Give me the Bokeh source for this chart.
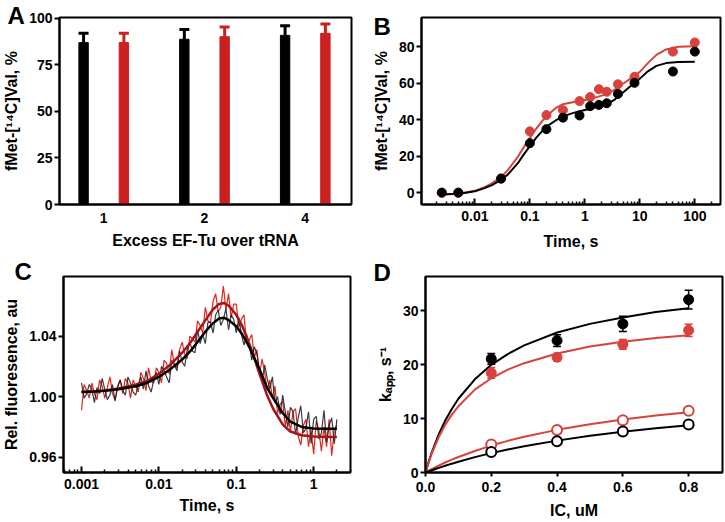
import numpy as np
from bokeh.plotting import figure
from bokeh.layouts import row, column
from bokeh.models import (Range1d, FixedTicker, NumeralTickFormatter, Title, Whisker,
                          TeeHead, ColumnDataSource)
from bokeh.embed import file_html
from bokeh.resources import INLINE

FONT = "Liberation Sans"
BLACK = "#000000"
RED_A = "#cc1f1f"
RED = "#d9423c"
RED_TRACE = "#e3261f"
RED_FIT = "#a3151a"

# ---------------- Panel A data ----------------
a_categories = ["1", "2", "4"]
a_black = [87.0, 88.8, 90.9]
a_black_err = [5.0, 5.3, 5.2]
a_red = [87.0, 90.2, 92.0]
a_red_err = [5.0, 5.2, 5.0]
a_yticks = [0, 25, 50, 75, 100]

# ---------------- Panel B data ----------------
b_time = [0.0025, 0.005, 0.03, 0.1, 0.2, 0.4, 0.8, 1.25, 1.8, 2.5, 4, 8, 40, 100]
b_black = [0.0, 0.0, 7.7, 27.1, 34.8, 41.1, 42.3, 47.4, 48.1, 49.0, 54.1, 60.2, 66.4, 77.3]
b_red = [0.0, 0.0, 7.7, 33.6, 42.5, 45.2, 50.2, 52.4, 56.7, 55.3, 59.4, 63.5, 77.3, 82.3]
b_fit_time = [0.0025, 0.004, 0.006, 0.01, 0.015, 0.02, 0.03, 0.04, 0.06, 0.08, 0.1, 0.13,
              0.17, 0.22, 0.3, 0.4, 0.6, 0.8, 1.2, 1.7, 2.5, 3.5, 5, 7, 10, 14, 20, 30, 50, 100]
b_fit_black = [-1.0, -0.7, -0.3, 0.8, 2.5, 4.0, 7.0, 10.0, 16.0, 21.5, 25.5, 30.0, 34.0, 37.0,
               39.7, 41.8, 43.6, 44.6, 45.8, 47.0, 48.5, 51.0, 55.0, 58.7, 62.5, 66.5, 69.5,
               71.0, 71.6, 71.7]
b_fit_red = [-1.0, -0.6, -0.2, 1.0, 3.0, 5.0, 8.5, 12.5, 19.5, 25.5, 30.0, 35.0, 39.5, 43.0,
             46.5, 48.5, 49.6, 50.2, 51.2, 52.5, 54.0, 56.5, 59.8, 62.8, 66.2, 71.0, 75.5,
             78.5, 80.0, 80.3]
b_xticks = [0.01, 0.1, 1, 10, 100]
b_yticks = [0, 20, 40, 60, 80]

# ---------------- Panel C data ----------------
c_black_trace = [1.009, 0.999, 1.002, 1.008, 1.005, 0.996, 1.006, 1.002, 1.012, 1.005,
                 0.998, 1.001, 1.008, 0.997, 1.007, 1.011, 1.004, 1.001, 1.013, 1.009,
                 1.003, 1.001, 1.008, 1.013, 1.005, 1.017, 1.007, 1.003, 1.011, 1.016,
                 1.008, 1.020, 1.017, 1.013, 1.009, 1.024, 1.021, 1.017, 1.030, 1.023,
                 1.020, 1.031, 1.036, 1.030, 1.029, 1.044, 1.035, 1.041, 1.035, 1.049,
                 1.049, 1.042, 1.054, 1.057, 1.047, 1.051, 1.058, 1.044, 1.054, 1.051,
                 1.042, 1.052, 1.041, 1.034, 1.041, 1.035, 1.024, 1.033, 1.028, 1.017,
                 1.010, 1.021, 1.012, 1.005, 1.013, 0.996, 1.000, 0.988, 1.001, 0.990,
                 0.980, 0.993, 0.990, 0.975, 0.986, 0.994, 0.976, 0.979, 0.990, 0.969,
                 0.985, 0.987, 0.972, 0.976, 0.991, 0.970, 0.981, 0.986, 0.969, 0.985]
c_red_trace = [0.991, 1.008, 1.004, 0.999, 1.009, 1.002, 0.998, 1.011, 1.007, 0.999,
               1.006, 1.013, 1.002, 0.998, 1.006, 1.011, 1.002, 1.012, 1.009, 0.999,
               1.011, 1.007, 1.003, 1.016, 1.012, 1.004, 1.019, 1.010, 1.009, 1.019,
               1.016, 1.009, 1.024, 1.022, 1.015, 1.031, 1.021, 1.019, 1.031, 1.036,
               1.028, 1.025, 1.040, 1.038, 1.036, 1.050, 1.047, 1.042, 1.059, 1.050,
               1.049, 1.063, 1.068, 1.056, 1.059, 1.073, 1.057, 1.068, 1.052, 1.061,
               1.061, 1.046, 1.051, 1.054, 1.035, 1.037, 1.041, 1.026, 1.031, 1.014,
               1.025, 1.016, 1.004, 1.011, 0.999, 1.007, 0.989, 0.995, 0.997, 0.980,
               0.991, 0.977, 0.990, 0.992, 0.974, 0.968, 0.981, 0.985, 0.967, 0.978,
               0.962, 0.984, 0.978, 0.964, 0.980, 0.967, 0.985, 0.961, 0.978, 0.981]
c_trace_time = np.geomspace(0.001, 2.0, len(c_black_trace))
c_fit_time = [0.001, 0.0015, 0.002, 0.003, 0.005, 0.007, 0.01, 0.014, 0.02, 0.025, 0.03,
              0.04, 0.05, 0.06, 0.07, 0.08, 0.1, 0.12, 0.15, 0.2, 0.25, 0.3, 0.4, 0.5, 0.7,
              1.0, 1.5, 2.0]
c_fit_black = [1.0030, 1.0033, 1.0038, 1.0048, 1.0068, 1.0090, 1.0130, 1.0180, 1.0245, 1.0295,
               1.0345, 1.0430, 1.0485, 1.0515, 1.0520, 1.0505, 1.0465, 1.0410, 1.0320, 1.0180,
               1.0060, 0.9990, 0.9890, 0.9835, 0.9800, 0.9790, 0.9788, 0.9788]
c_fit_red = [1.0030, 1.0035, 1.0041, 1.0053, 1.0078, 1.0103, 1.0150, 1.0210, 1.0290, 1.0350,
             1.0410, 1.0505, 1.0575, 1.0612, 1.0618, 1.0600, 1.0540, 1.0465, 1.0340, 1.0150,
             1.0010, 0.9920, 0.9815, 0.9770, 0.9745, 0.9736, 0.9733, 0.9733]
c_xticks = [0.001, 0.01, 0.1, 1]
c_yticks = [0.96, 1.00, 1.04]

# ---------------- Panel D data ----------------
d_ic = [0.2, 0.4, 0.6, 0.8]
d_black_filled = [21.1, 24.5, 27.6, 32.1]
d_black_filled_err = [1.0, 1.1, 1.4, 1.75]
d_red_filled = [18.5, 21.4, 23.8, 26.4]
d_red_filled_err = [1.0, 0.7, 0.9, 1.15]
d_red_open = [5.2, 7.9, 9.7, 11.45]
d_black_open = [3.8, 5.8, 7.6, 8.9]
d_fit_x = [0.0, 0.01, 0.02, 0.04, 0.06, 0.08, 0.1, 0.15, 0.2, 0.25, 0.3, 0.4, 0.5, 0.6, 0.7, 0.8]
d_fit_black_filled = [0.0, 2.06, 3.9, 7.05, 9.65, 11.8, 13.7, 17.3, 20.0, 22.0, 23.6, 26.0,
                      27.6, 28.8, 29.8, 30.5]
d_fit_red_filled = [0.0, 1.95, 3.67, 6.54, 8.85, 10.75, 12.3, 15.4, 17.5, 19.1, 20.3, 22.1,
                    23.4, 24.3, 25.0, 25.5]
d_fit_red_open = [0.0, 0.33, 0.65, 1.27, 1.86, 2.39, 2.88, 4.0, 5.0, 5.87, 6.63, 7.92, 8.98,
                  9.85, 10.58, 11.2]
d_fit_black_open = [0.0, 0.22, 0.43, 0.85, 1.25, 1.64, 2.01, 2.86, 3.6, 4.28, 4.87, 5.92,
                    6.81, 7.57, 8.22, 8.79]
d_xticks = [0.0, 0.2, 0.4, 0.6, 0.8]
d_yticks = [0, 10, 20, 30]


def make_fig(W, H, L, R, T, B, x_range, y_range, x_axis_type="linear"):
    p = figure(width=W, height=H, x_range=x_range, y_range=y_range,
               x_axis_type=x_axis_type, output_backend="svg", toolbar_location=None,
               min_border_left=L, min_border_right=W - R, min_border_top=T,
               min_border_bottom=H - B)
    p.outline_line_color = "black"
    p.outline_line_width = 2
    p.outline_line_alpha = 1.0
    p.grid.visible = False
    for ax in (p.xaxis[0], p.yaxis[0]):
        ax.axis_line_width = 2
        ax.major_tick_line_width = 2
        ax.minor_tick_line_width = 1.5
        ax.major_label_text_font = FONT
        ax.major_label_text_font_style = "bold"
        ax.major_label_text_font_size = "14px"
        ax.major_label_text_color = "black"
        ax.axis_label_text_font = FONT
        ax.axis_label_text_font_style = "bold"
        ax.axis_label_text_font_size = "16px"
        ax.axis_label_text_color = "black"
    p.yaxis.major_tick_out = 5
    p.yaxis.major_tick_in = 0
    p.yaxis.minor_tick_out = 0
    p.yaxis.minor_tick_in = 0
    p.yaxis.major_label_standoff = 2
    p.yaxis.axis_label_standoff = 6
    return p


def set_letter(p, text, offset, standoff):
    p.title = Title(text=text, align="left", vertical_align="bottom", offset=offset,
                    standoff=standoff, text_font=FONT, text_font_style="bold",
                    text_font_size="24px", text_color="black")


def log_minor(lo_exp, hi_exp):
    return [m * 10.0 ** e for e in range(lo_exp, hi_exp) for m in range(2, 10)]


# ---------------- Panel A ----------------
WA, HA, LA, RA, TA, BA = 362, 252, 55, 351, 17, 205
pA = make_fig(WA, HA, LA, RA, TA, BA, Range1d(-0.439, 2.459), Range1d(0, 100.5))
a_idx = list(range(len(a_categories)))
srcA_k = ColumnDataSource(dict(x=[i - 0.2 for i in a_idx], top=a_black,
                               up=[t + e for t, e in zip(a_black, a_black_err)]))
srcA_r = ColumnDataSource(dict(x=[i + 0.2 for i in a_idx], top=a_red,
                               up=[t + e for t, e in zip(a_red, a_red_err)]))
pA.vbar(x="x", top="top", width=0.093, source=srcA_k, color=BLACK)
pA.vbar(x="x", top="top", width=0.093, source=srcA_r, color=RED_A)
for src, col in ((srcA_k, BLACK), (srcA_r, RED_A)):
    pA.add_layout(Whisker(source=src, base="x", lower="top", upper="up", dimension="height",
                          line_color=col, line_width=3,
                          upper_head=TeeHead(size=10, line_color=col, line_width=3),
                          lower_head=None))
pA.xaxis.ticker = FixedTicker(ticks=a_idx)
pA.xaxis.major_label_overrides = {i: c for i, c in zip(a_idx, a_categories)}
pA.xaxis.major_tick_out = 0
pA.xaxis.major_tick_in = 0
pA.xaxis.minor_tick_out = 0
pA.xaxis.major_label_standoff = 8
pA.xaxis.axis_label_standoff = 6
pA.yaxis.ticker = FixedTicker(ticks=a_yticks)
pA.xaxis.axis_label = "Excess EF-Tu over tRNA"
pA.yaxis.axis_label = "fMet-[¹⁴C]Val, %"
set_letter(pA, "A", -52, -22)

# ---------------- Panel B ----------------
WB, HB, LB, RB, TB, BB = 362, 252, 59, 358, 5, 205
pB = make_fig(WB, HB, LB, RB, TB, BB, Range1d(0.00107, 293), Range1d(-6.5, 96),
              x_axis_type="log")
pB.line(b_fit_time, b_fit_red, line_color=RED, line_width=2)
pB.line(b_fit_time, b_fit_black, line_color=BLACK, line_width=2)
pB.scatter(b_time, b_red, size=9, color=RED)
pB.scatter(b_time, b_black, size=9, color=BLACK)
pB.xaxis.ticker = FixedTicker(ticks=b_xticks, minor_ticks=log_minor(-3, 3))
pB.xaxis.formatter = NumeralTickFormatter(format="0.[000]")
pB.xaxis.major_tick_in = 6
pB.xaxis.major_tick_out = 0
pB.xaxis.minor_tick_in = 3
pB.xaxis.minor_tick_out = 0
pB.xaxis.major_label_standoff = 6
pB.xaxis.axis_label_standoff = 9
pB.yaxis.ticker = FixedTicker(ticks=b_yticks)
pB.xaxis.axis_label = "Time, s"
pB.yaxis.axis_label = "fMet-[¹⁴C]Val, %"
set_letter(pB, "B", -48, -44)

# ---------------- Panel C ----------------
WC, HC, LC, RC, TC, BC = 362, 269, 52, 350, 23, 222
pC = make_fig(WC, HC, LC, RC, TC, BC, Range1d(0.000585, 3.0), Range1d(0.9499, 1.0793),
              x_axis_type="log")
pC.line(c_trace_time, c_red_trace, line_color=RED_TRACE, line_width=1.2)
pC.line(c_trace_time, c_black_trace, line_color="#1a1a1a", line_width=1.2, line_alpha=0.85)
pC.line(c_fit_time, c_fit_red, line_color=RED_FIT, line_width=2.5)
pC.line(c_fit_time, c_fit_black, line_color=BLACK, line_width=2.5)
pC.xaxis.ticker = FixedTicker(ticks=c_xticks, minor_ticks=log_minor(-4, 1))
pC.xaxis.formatter = NumeralTickFormatter(format="0.[000]")
pC.xaxis.major_tick_in = 6
pC.xaxis.major_tick_out = 0
pC.xaxis.minor_tick_in = 3
pC.xaxis.minor_tick_out = 0
pC.xaxis.major_label_standoff = 6
pC.xaxis.axis_label_standoff = 5
pC.yaxis.ticker = FixedTicker(ticks=c_yticks)
pC.yaxis.formatter = NumeralTickFormatter(format="0.00")
pC.xaxis.axis_label = "Time, s"
pC.yaxis.axis_label = "Rel. fluoresence, au"
set_letter(pC, "C", -49, -16)

# ---------------- Panel D ----------------
WD, HD, LD, RD, TD, BD = 362, 269, 63, 360, 24, 222
pD = make_fig(WD, HD, LD, RD, TD, BD, Range1d(0, 0.903), Range1d(0, 36.4))
pD.line(d_fit_x, d_fit_black_filled, line_color=BLACK, line_width=2)
pD.line(d_fit_x, d_fit_red_filled, line_color=RED, line_width=2)
pD.line(d_fit_x, d_fit_red_open, line_color=RED, line_width=2)
pD.line(d_fit_x, d_fit_black_open, line_color=BLACK, line_width=2)
srcD_k = ColumnDataSource(dict(x=d_ic, y=d_black_filled,
                               lo=[v - e for v, e in zip(d_black_filled, d_black_filled_err)],
                               hi=[v + e for v, e in zip(d_black_filled, d_black_filled_err)]))
srcD_r = ColumnDataSource(dict(x=d_ic, y=d_red_filled,
                               lo=[v - e for v, e in zip(d_red_filled, d_red_filled_err)],
                               hi=[v + e for v, e in zip(d_red_filled, d_red_filled_err)]))
for src, col in ((srcD_k, BLACK), (srcD_r, RED)):
    pD.add_layout(Whisker(source=src, base="x", lower="lo", upper="hi", dimension="height",
                          line_color=col, line_width=1.5,
                          upper_head=TeeHead(size=8, line_color=col, line_width=1.5),
                          lower_head=TeeHead(size=8, line_color=col, line_width=1.5)))
    pD.scatter("x", "y", source=src, size=10, color=col)
pD.scatter(d_ic, d_red_open, size=10, fill_color="white", line_color=RED, line_width=2)
pD.scatter(d_ic, d_black_open, size=10, fill_color="white", line_color=BLACK, line_width=2)
pD.xaxis.ticker = FixedTicker(ticks=d_xticks)
pD.xaxis.formatter = NumeralTickFormatter(format="0.0")
pD.xaxis.major_tick_out = 4
pD.xaxis.major_tick_in = 0
pD.xaxis.minor_tick_out = 0
pD.xaxis.minor_tick_in = 0
pD.xaxis.major_label_standoff = 5
pD.xaxis.axis_label_standoff = 7
pD.yaxis.ticker = FixedTicker(ticks=d_yticks)
pD.xaxis.axis_label = "IC, uM"
pD.yaxis.axis_label = "kₐₚₚ, s⁻¹"
set_letter(pD, "D", -52, -18)

layout = column(row(pA, pB), row(pC, pD))
open("out.html", "w").write(file_html(layout, INLINE))
